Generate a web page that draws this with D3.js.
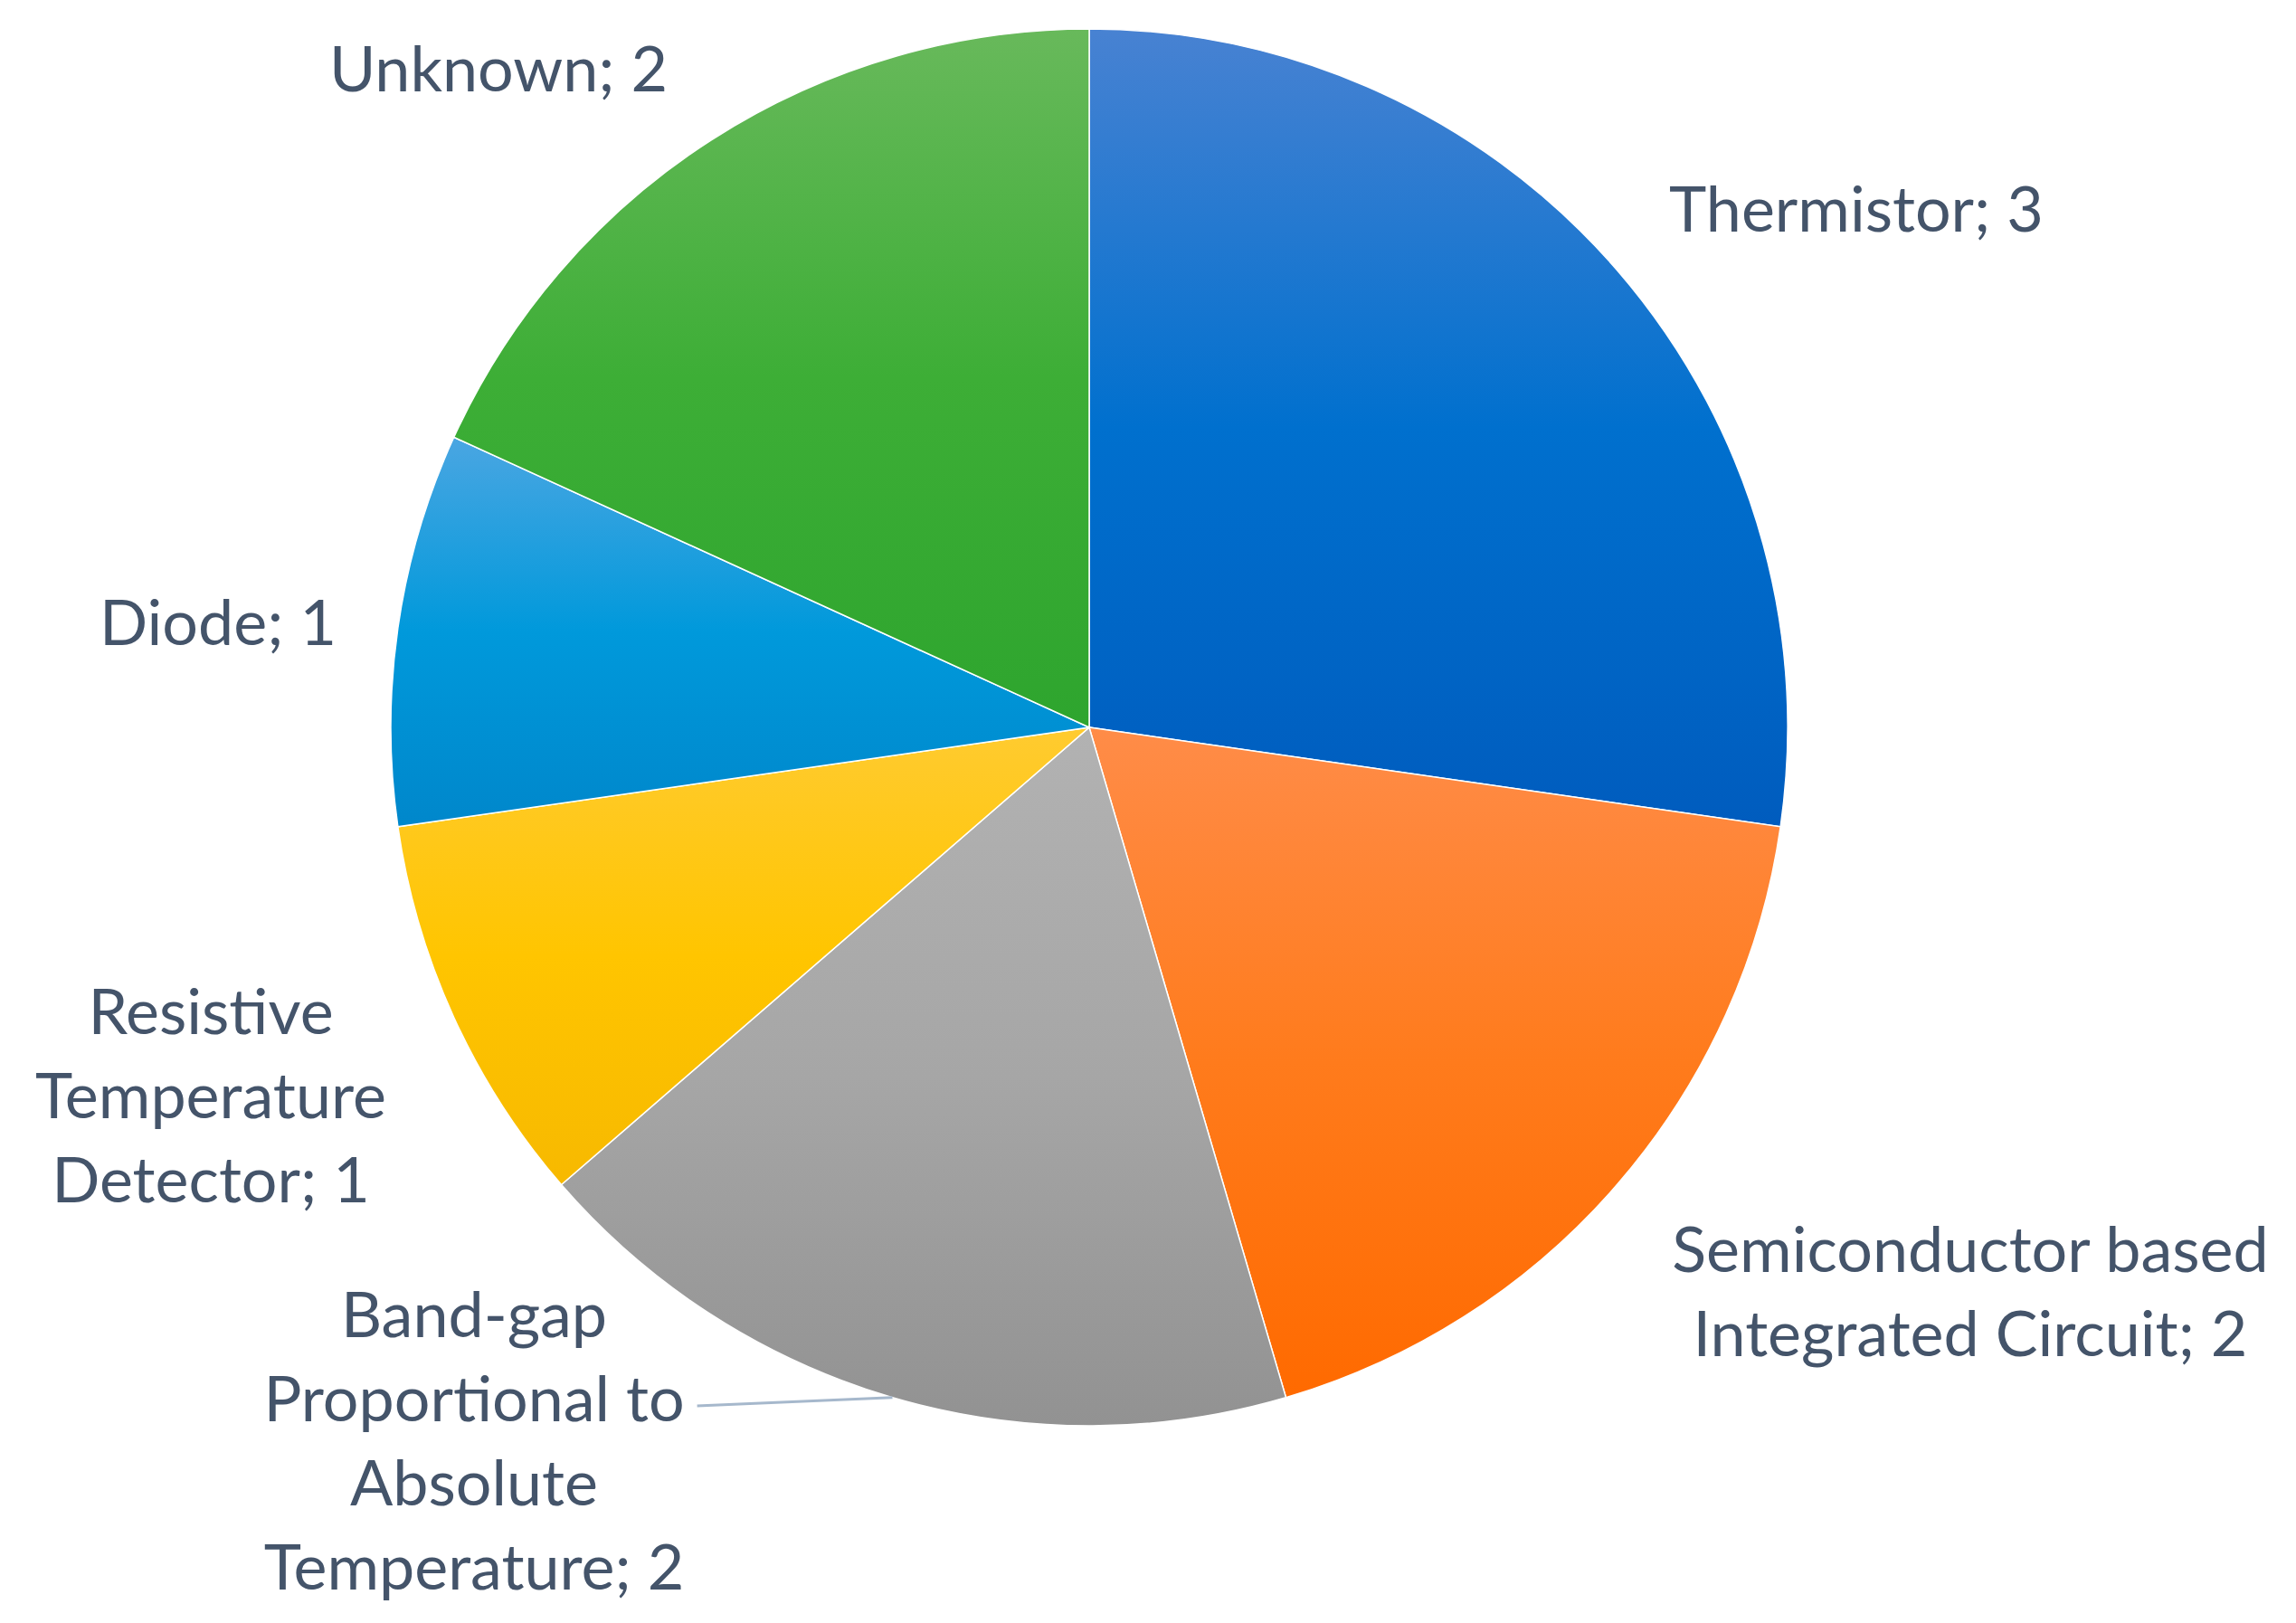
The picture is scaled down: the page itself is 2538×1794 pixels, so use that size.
<!DOCTYPE html>
<html>
<head>
<meta charset="utf-8">
<title>Temperature sensor types | D3</title>
<script src="https://d3js.org/d3.v7.min.js"></script>
<style>
body {
  margin: 0;
  background: #fff;
}
.lbl {
  font-family: "Lato", "Open Sans", sans-serif;
  font-size: 70px;
  fill: #44546A;
}
</style>
</head>
<body>
<script>
// data, clockwise from 12 o'clock
var categories = ["Thermistor", "Semiconductor based Integrated Circuit",
  "Band-gap Proportional to Absolute Temperature", "Resistive Temperature Detector",
  "Diode", "Unknown"];
var counts = [3, 2, 2, 1, 1, 2];
// how each label wraps, as in the original
var labelLines = [
  ["Thermistor; 3"],
  ["Semiconductor based", "Integrated Circuit; 2"],
  ["Band-gap", "Proportional to", "Absolute", "Temperature; 2"],
  ["Resistive", "Temperature", "Detector; 1"],
  ["Diode; 1"],
  ["Unknown; 2"]
];

// gradient stops per slice (top, middle, bottom)
var sliceColors = [
  ["#4882D2", "#0070CE", "#005CBE"],
  ["#FF8C48", "#FF7B1C", "#FF6A00"],
  ["#B2B2B2", "#A6A6A6", "#929292"],
  ["#FFCB30", "#FFC500", "#F7B900"],
  ["#4AA6E2", "#0099DB", "#0087CB"],
  ["#68B95B", "#3DAE36", "#2EA52E"]
];

var width = 2538;
var height = 1794;
var cx = 1204, cy = 804, radius = 772;
var lineH = 93;

// label anchors relative to pie centre: x centre, first baseline
var labelOffsets = [
  [848, -548], [974, 602], [-680, 674], [-971, 339], [-963, -91], [-653, -703]
];

var svg = d3.select("body")
  .append("svg")
  .attr("width", width)
  .attr("height", height);

var defs = svg.append("defs");
sliceColors.forEach(function(c, i) {
  var grad = defs.append("linearGradient")
    .attr("id", "grad" + i)
    .attr("x1", 0).attr("y1", 0).attr("x2", 0).attr("y2", 1);
  grad.append("stop").attr("offset", "0%").attr("stop-color", c[0]);
  grad.append("stop").attr("offset", "50%").attr("stop-color", c[1]);
  grad.append("stop").attr("offset", "100%").attr("stop-color", c[2]);
});

var pie = d3.pie().sort(null).value(function(d) { return d; });
var arcs = pie(counts);
var arc = d3.arc().innerRadius(0).outerRadius(radius);
var edge = d3.arc().innerRadius(radius).outerRadius(radius);

var g = svg.append("g").attr("transform", "translate(" + cx + "," + cy + ")");

g.selectAll("path.slice")
  .data(arcs)
  .enter()
  .append("path")
  .attr("class", "slice")
  .attr("d", arc)
  .attr("fill", function(d, i) { return "url(#grad" + i + ")"; })
  .attr("stroke", "#ffffff")
  .attr("stroke-width", 1.5);

// labels
var labels = g.selectAll("text.lbl")
  .data(arcs)
  .enter()
  .append("text")
  .attr("class", "lbl")
  .attr("text-anchor", "middle")
  .attr("x", function(d, i) { return labelOffsets[i][0]; })
  .attr("y", function(d, i) { return labelOffsets[i][1]; });

labels.each(function(d, i) {
  var t = d3.select(this);
  labelLines[i].forEach(function(line, k) {
    t.append("tspan")
      .attr("x", labelOffsets[i][0])
      .attr("y", labelOffsets[i][1] + k * lineH)
      .text(line);
  });
});

// leader line for the band-gap label
var bg = labels.filter(function(d, i) { return i === 2; });
var tsp = bg.selectAll("tspan").nodes()[1];
var bb = tsp.getBBox();
var tip = edge.centroid(arcs[2]);
g.append("line")
  .attr("x1", bb.x + bb.width + 14)
  .attr("y1", labelOffsets[2][1] + lineH - 17)
  .attr("x2", tip[0])
  .attr("y2", tip[1])
  .attr("stroke", "#A6B8CC")
  .attr("stroke-width", 3);
</script>
</body>
</html>
